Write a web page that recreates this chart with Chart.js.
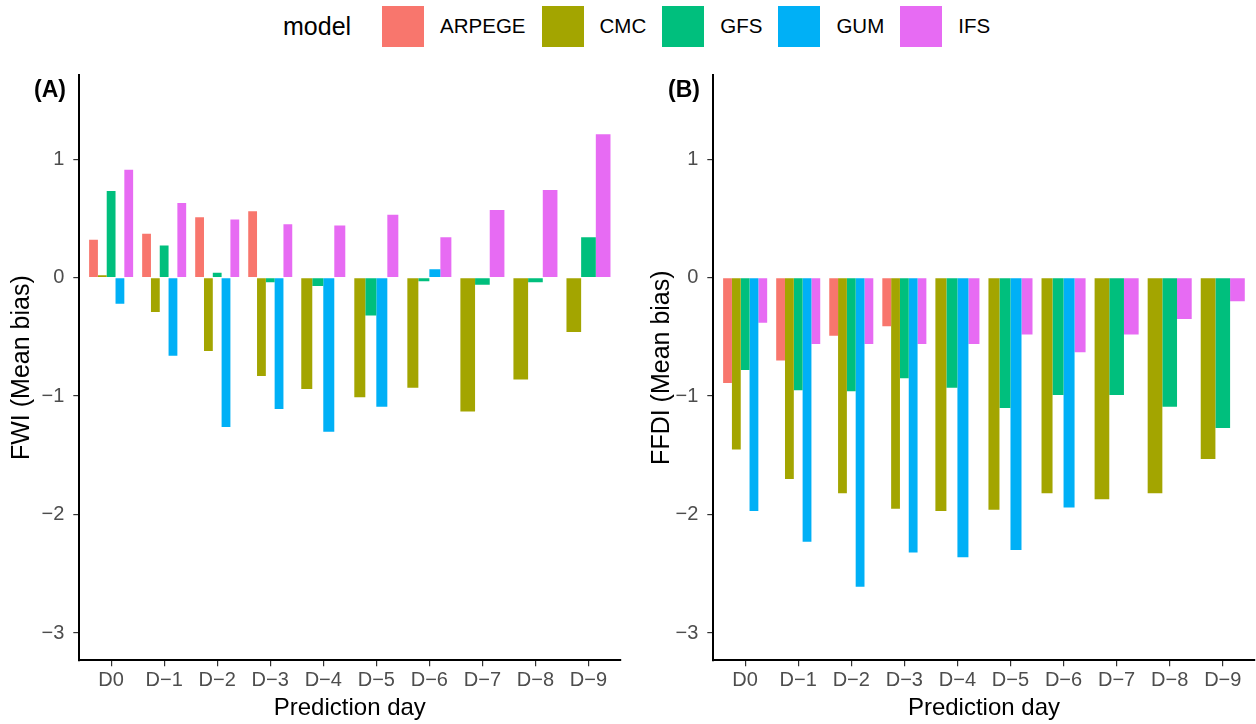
<!DOCTYPE html>
<html>
<head>
<meta charset="utf-8">
<script src="https://cdn.jsdelivr.net/npm/chart.js@4/dist/chart.umd.min.js"></script>
<style>
  body { margin: 0; background: #fff; font-family: "Liberation Sans", Arial, sans-serif; }
  #wrap { position: relative; width: 1256px; height: 724px; overflow: hidden; }
  canvas { position: absolute; top: 0; }
  #legend { position: absolute; left: 283px; top: 5px; height: 42px; display: flex; align-items: center; }
  #legend .title { font-size: 25px; margin-right: 31px; }
  #legend .key { width: 42px; height: 41px; margin-right: 16px; }
  #legend .lab { font-size: 20.5px; margin-right: 16px; }
  .tag { position: absolute; top: 78px; font-size: 23px; font-weight: bold; line-height: 23px; }
</style>
</head>
<body>
<div id="wrap">
  <div id="legend"></div>
  <canvas id="fwi" width="640" height="724" style="left:0"></canvas>
  <canvas id="ffdi" width="616" height="724" style="left:640px"></canvas>
  <div class="tag" style="left:34px">(A)</div>
  <div class="tag" style="left:668px">(B)</div>
</div>
<script>
// prediction days and models
const days = ['D0', 'D\u22121', 'D\u22122', 'D\u22123', 'D\u22124', 'D\u22125', 'D\u22126', 'D\u22127', 'D\u22128', 'D\u22129'];
const models = ['ARPEGE', 'CMC', 'GFS', 'GUM', 'IFS'];
const colors = ['#F8766D', '#A3A500', '#00BF7D', '#00B0F6', '#E76BF3'];

// mean bias of FWI
const fwiARPEGE = [0.32, 0.37, 0.51, 0.56, null, null, null, null, null, null];
const fwiCMC    = [0.02, -0.29, -0.62, -0.83, -0.94, -1.01, -0.93, -1.13, -0.86, -0.46];
const fwiGFS    = [0.73, 0.27, 0.04, -0.04, -0.07, -0.32, -0.03, -0.06, -0.04, 0.34];
const fwiGUM    = [-0.22, -0.66, -1.26, -1.11, -1.30, -1.09, 0.07, null, null, null];
const fwiIFS    = [0.91, 0.63, 0.49, 0.45, 0.44, 0.53, 0.34, 0.57, 0.74, 1.21];

// mean bias of FFDI
const ffdiARPEGE = [-0.89, -0.70, -0.49, -0.41, null, null, null, null, null, null];
const ffdiCMC    = [-1.45, -1.70, -1.82, -1.95, -1.97, -1.96, -1.82, -1.87, -1.82, -1.53];
const ffdiGFS    = [-0.78, -0.95, -0.96, -0.85, -0.93, -1.10, -0.99, -0.99, -1.09, -1.27];
const ffdiGUM    = [-1.97, -2.23, -2.61, -2.32, -2.36, -2.30, -1.94, null, null, null];
const ffdiIFS    = [-0.38, -0.56, -0.56, -0.56, -0.56, -0.48, -0.63, -0.48, -0.35, -0.20];

const yTicks = [-3, -2, -1, 0, 1];

// legend
const legend = document.getElementById('legend');
legend.innerHTML = '<span class="title">model</span>' + models.map((m, i) =>
  '<span class="key" style="background:' + colors[i] + '"></span><span class="lab">' + m + '</span>').join('');

const font = 'Liberation Sans, Arial, sans-serif';
const minus = v => v < 0 ? '\u2212' + Math.abs(v) : String(v);

function makeChart(id, yTitle, series, yAxisWidth, padRight) {
  new Chart(document.getElementById(id), {
    type: 'bar',
    data: {
      datasets: series.map((vals, i) => ({
        label: models[i],
        data: vals.map((v, j) => ({ x: j, y: v })),
        backgroundColor: colors[i],
        borderWidth: 0,
        skipNull: true,  // missing models don't keep a slot, like a ggplot dodge
        categoryPercentage: 0.83,
        barPercentage: 1.0
      }))
    },
    options: {
      responsive: false,
      animation: false,
      devicePixelRatio: 1,
      layout: { padding: { top: 75, right: padRight, left: 0, bottom: 0 } },
      plugins: { legend: { display: false }, tooltip: { enabled: false } },
      scales: {
        x: {
          type: 'linear',
          min: -0.6,
          max: 9.6,
          offset: false,
          afterBuildTicks: s => { s.ticks = days.map((d, i) => ({ value: i })); },
          afterFit: s => { s.height = 63.7; },
          ticks: {
            callback: (v, i) => days[i],
            color: '#4D4D4D',
            font: { family: font, size: 20 },
            padding: 2,
            maxRotation: 0,
            autoSkip: false
          },
          grid: { display: true, drawOnChartArea: false, drawTicks: true, tickLength: 6, color: '#333333', lineWidth: 1.2, offset: false },
          border: { display: true, color: '#000000', width: 2 },
          title: { display: true, text: 'Prediction day', color: '#000', font: { family: font, size: 24 }, padding: { top: 0, bottom: 1 } }
        },
        y: {
          min: -3.23,
          max: 1.71,
          afterBuildTicks: s => { s.ticks = yTicks.map(v => ({ value: v })); },
          afterFit: s => { s.width = yAxisWidth; },
          ticks: {
            callback: v => minus(v),
            color: '#4D4D4D',
            font: { family: font, size: 20 },
            padding: 9
          },
          grid: { display: true, drawOnChartArea: false, drawTicks: true, tickLength: 6, color: '#333333', lineWidth: 1.2 },
          border: { display: true, color: '#000000', width: 2 },
          title: { display: true, text: yTitle, color: '#000', font: { family: font, size: 25 }, padding: { top: 7, bottom: 0 } }
        }
      }
    }
  });
}

makeChart('fwi', 'FWI (Mean bias)', [fwiARPEGE, fwiCMC, fwiGFS, fwiGUM, fwiIFS], 79.3, 19.7);
makeChart('ffdi', 'FFDI (Mean bias)', [ffdiARPEGE, ffdiCMC, ffdiGFS, ffdiGUM, ffdiIFS], 73.3, 1.4);
</script>
</body>
</html>
